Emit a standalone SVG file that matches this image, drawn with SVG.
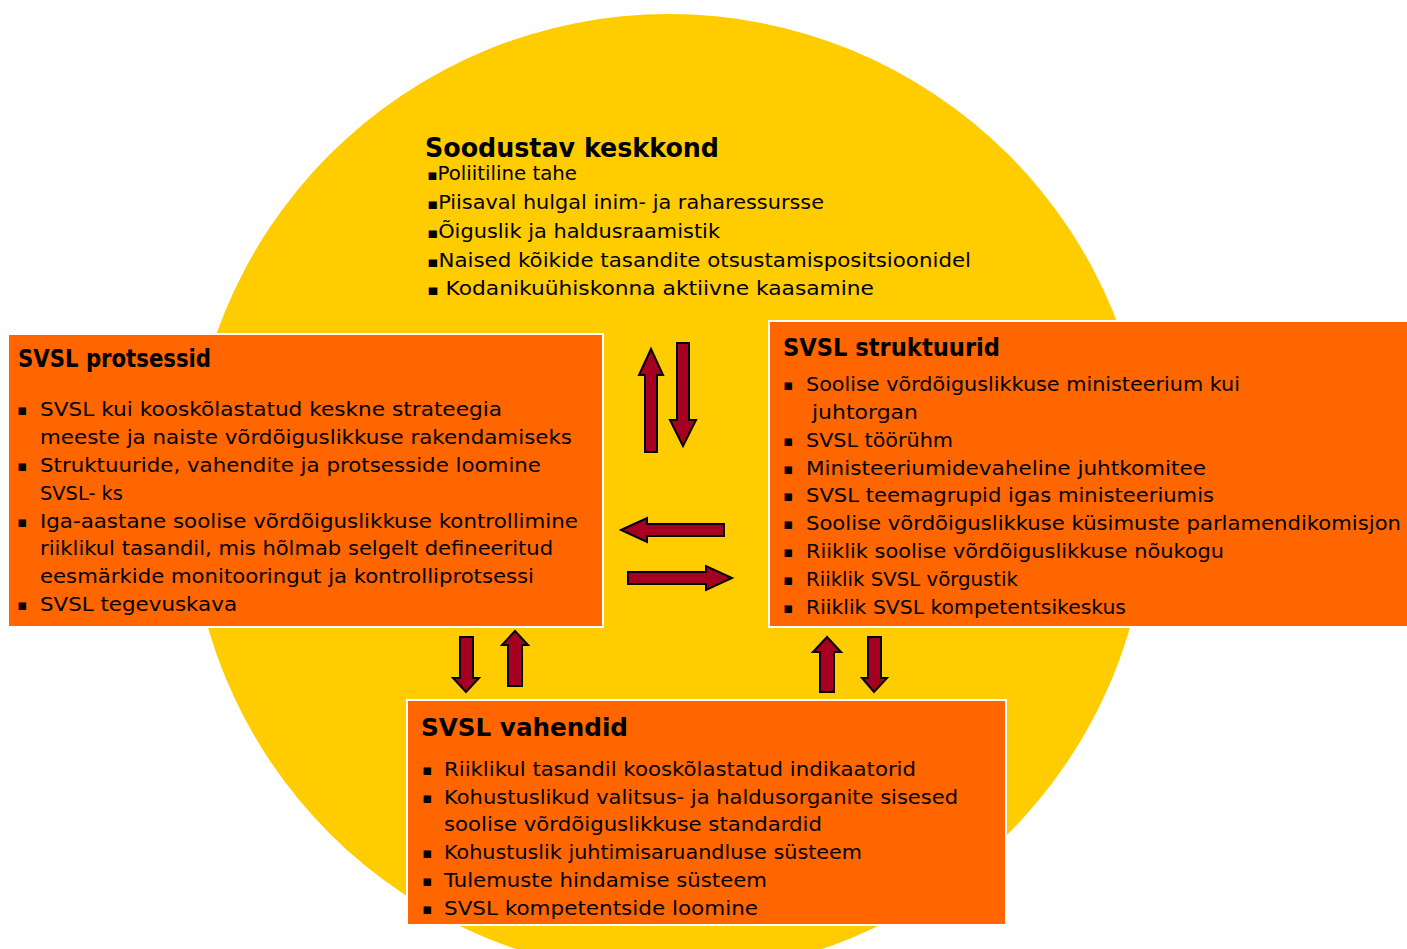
<svg xmlns="http://www.w3.org/2000/svg" width="1407" height="949" viewBox="0 0 1407 949">
<style>
.box{fill:#FF6600;stroke:#FFFFFF;stroke-width:2}
.t{font-family:"DejaVu Sans","Liberation Sans",sans-serif;font-size:19px;fill:#000}
.b{font-family:"DejaVu Sans","Liberation Sans",sans-serif;font-size:15px;fill:#000}
.h{font-family:"DejaVu Sans","Liberation Sans",sans-serif;font-size:24px;font-weight:bold;fill:#000}
.arr{fill:#A50021;stroke:#000;stroke-width:2;stroke-linejoin:miter}
</style>
<rect width="1407" height="949" fill="#FFFFFF"/>
<circle cx="669" cy="494" r="480" fill="#FFCC00"/>
<g id="soodustav">
<text class="h" x="425" y="157" textLength="294" lengthAdjust="spacingAndGlyphs" style="font-size:26px">Soodustav keskkond</text>
<text class="t" x="427" y="180" textLength="150" lengthAdjust="spacingAndGlyphs"><tspan style="font-size:15px">▪</tspan>Poliitiline tahe</text>
<text class="t" x="427" y="209" textLength="397" lengthAdjust="spacingAndGlyphs"><tspan style="font-size:15px">▪</tspan>Piisaval hulgal inim- ja raharessursse</text>
<text class="t" x="427" y="238" textLength="293" lengthAdjust="spacingAndGlyphs"><tspan style="font-size:15px">▪</tspan>Õiguslik ja haldusraamistik</text>
<text class="t" x="427" y="267" textLength="544" lengthAdjust="spacingAndGlyphs"><tspan style="font-size:15px">▪</tspan>Naised kõikide tasandite otsustamispositsioonidel</text>
<text class="t" x="427" y="295" textLength="447" lengthAdjust="spacingAndGlyphs"><tspan style="font-size:15px">▪</tspan> Kodanikuühiskonna aktiivne kaasamine</text>
</g>
<g id="protsessid">
<rect class="box" x="8" y="334" width="595" height="293"/>
<text class="h" x="18" y="367" textLength="193" lengthAdjust="spacingAndGlyphs">SVSL protsessid</text>
<text class="b" x="17" y="415">▪</text>
<text class="t" x="40" y="416" textLength="462" lengthAdjust="spacingAndGlyphs">SVSL  kui kooskõlastatud keskne strateegia</text>
<text class="t" x="40" y="444" textLength="532" lengthAdjust="spacingAndGlyphs">meeste ja naiste võrdõiguslikkuse rakendamiseks</text>
<text class="b" x="17" y="471">▪</text>
<text class="t" x="40" y="472" textLength="501" lengthAdjust="spacingAndGlyphs">Struktuuride, vahendite ja protsesside loomine</text>
<text class="t" x="40" y="500" textLength="83" lengthAdjust="spacingAndGlyphs">SVSL- ks</text>
<text class="b" x="17" y="527">▪</text>
<text class="t" x="40" y="528" textLength="538" lengthAdjust="spacingAndGlyphs">Iga-aastane soolise võrdõiguslikkuse kontrollimine</text>
<text class="t" x="40" y="555" textLength="513" lengthAdjust="spacingAndGlyphs">riiklikul tasandil, mis hõlmab selgelt defineeritud</text>
<text class="t" x="40" y="583" textLength="494" lengthAdjust="spacingAndGlyphs">eesmärkide monitooringut ja kontrolliprotsessi</text>
<text class="b" x="17" y="610">▪</text>
<text class="t" x="40" y="611" textLength="197" lengthAdjust="spacingAndGlyphs">SVSL tegevuskava</text>
</g>
<g id="struktuurid">
<rect class="box" x="769" y="321" width="645" height="306"/>
<text class="h" x="783" y="356" textLength="217" lengthAdjust="spacingAndGlyphs">SVSL struktuurid</text>
<text class="b" x="783" y="390">▪</text>
<text class="t" x="806" y="391" textLength="434" lengthAdjust="spacingAndGlyphs">Soolise võrdõiguslikkuse ministeerium kui</text>
<text class="t" x="812" y="419" textLength="106" lengthAdjust="spacingAndGlyphs">juhtorgan</text>
<text class="b" x="783" y="446">▪</text>
<text class="t" x="806" y="447" textLength="147" lengthAdjust="spacingAndGlyphs">SVSL töörühm</text>
<text class="b" x="783" y="474">▪</text>
<text class="t" x="806" y="475" textLength="400" lengthAdjust="spacingAndGlyphs">Ministeeriumidevaheline juhtkomitee</text>
<text class="b" x="783" y="501">▪</text>
<text class="t" x="806" y="502" textLength="408" lengthAdjust="spacingAndGlyphs">SVSL teemagrupid igas ministeeriumis</text>
<text class="b" x="783" y="529">▪</text>
<text class="t" x="806" y="530" textLength="595" lengthAdjust="spacingAndGlyphs">Soolise võrdõiguslikkuse küsimuste parlamendikomisjon</text>
<text class="b" x="783" y="557">▪</text>
<text class="t" x="806" y="558" textLength="418" lengthAdjust="spacingAndGlyphs">Riiklik soolise võrdõiguslikkuse nõukogu</text>
<text class="b" x="783" y="585">▪</text>
<text class="t" x="806" y="586" textLength="212" lengthAdjust="spacingAndGlyphs">Riiklik SVSL võrgustik</text>
<text class="b" x="783" y="613">▪</text>
<text class="t" x="806" y="614" textLength="320" lengthAdjust="spacingAndGlyphs">Riiklik SVSL kompetentsikeskus</text>
</g>
<g id="vahendid">
<rect class="box" x="407" y="700" width="599" height="225"/>
<text class="h" x="421" y="736" textLength="207" lengthAdjust="spacingAndGlyphs">SVSL vahendid</text>
<text class="b" x="422" y="775">▪</text>
<text class="t" x="444" y="776" textLength="472" lengthAdjust="spacingAndGlyphs">Riiklikul tasandil kooskõlastatud indikaatorid</text>
<text class="b" x="422" y="803">▪</text>
<text class="t" x="444" y="804" textLength="514" lengthAdjust="spacingAndGlyphs">Kohustuslikud valitsus- ja haldusorganite sisesed</text>
<text class="t" x="444" y="831" textLength="378" lengthAdjust="spacingAndGlyphs">soolise võrdõiguslikkuse standardid</text>
<text class="b" x="422" y="858">▪</text>
<text class="t" x="444" y="859" textLength="418" lengthAdjust="spacingAndGlyphs">Kohustuslik juhtimisaruandluse süsteem</text>
<text class="b" x="422" y="886">▪</text>
<text class="t" x="444" y="887" textLength="323" lengthAdjust="spacingAndGlyphs">Tulemuste hindamise süsteem</text>
<text class="b" x="422" y="914">▪</text>
<text class="t" x="444" y="915" textLength="314" lengthAdjust="spacingAndGlyphs">SVSL kompetentside loomine</text>
</g>
<g id="connectors">
<polygon class="arr" points="651,349 663,375 657,375 657,452 645,452 645,375 639,375"/>
<polygon class="arr" points="677,343 689,343 689,420 696,420 683,446 670,420 677,420"/>
<polygon class="arr" points="621,530 647,518 647,524 724,524 724,536 647,536 647,542"/>
<polygon class="arr" points="628,572 706,572 706,566 732,578 706,590 706,584 628,584"/>
<polygon class="arr" points="460,637 473,637 473,678 479,678 466,692 453,678 460,678"/>
<polygon class="arr" points="515,631 528,645 522,645 522,686 508,686 508,645 502,645"/>
<polygon class="arr" points="827,637 841,652 834,652 834,692 820,692 820,652 813,652"/>
<polygon class="arr" points="868,637 881,637 881,678 887,678 874,692 862,678 868,678"/>
</g>
</svg>
